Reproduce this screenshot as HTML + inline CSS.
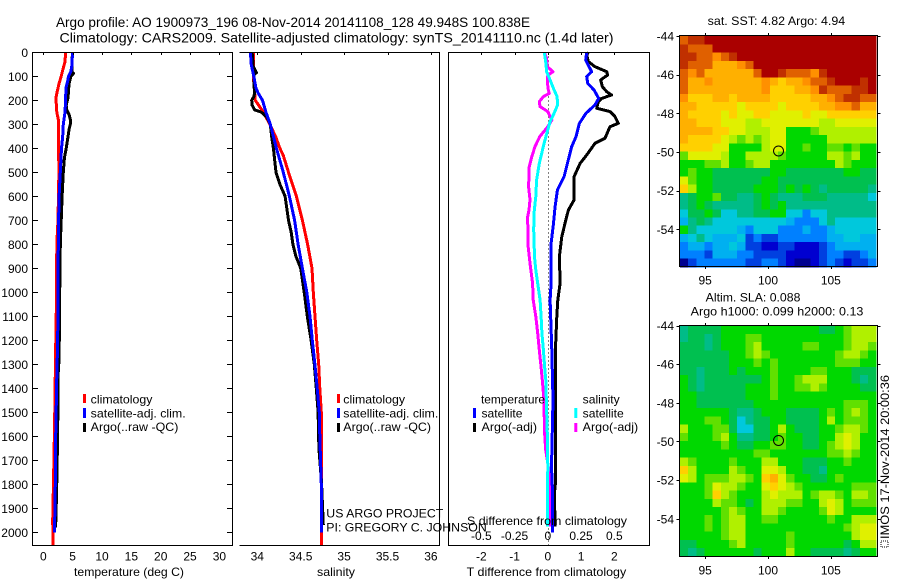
<!DOCTYPE html>
<html>
<head>
<meta charset="utf-8">
<title>Argo profile</title>
<style>
html,body{margin:0;padding:0;background:#fff;width:900px;height:580px;overflow:hidden}
svg{display:block}
text{font-family:"Liberation Sans",sans-serif;font-size:12px;fill:#000}
.ttl{font-size:14px}
</style>
</head>
<body>
<svg id="fig" xmlns="http://www.w3.org/2000/svg" width="900" height="580" viewBox="0 0 900 580">
<text class="ttl" x="56" y="27" textLength="474" lengthAdjust="spacingAndGlyphs">Argo profile: AO 1900973_196 08-Nov-2014 20141108_128 49.948S 100.838E</text>
<text class="ttl" x="59.5" y="42.7" textLength="554" lengthAdjust="spacingAndGlyphs">Climatology: CARS2009. Satellite-adjusted climatology: synTS_20141110.nc (1.4d later)</text>
<g id="g-heat"></g>
<g id="g-lines"></g>
<g id="g-axes" fill="none" stroke="#000" stroke-width="1" shape-rendering="crispEdges"></g>
<g id="g-text"></g>

<text x="74" y="576" textLength="110" lengthAdjust="spacingAndGlyphs">temperature (deg C)</text>
<text x="317" y="576" textLength="38" lengthAdjust="spacingAndGlyphs">salinity</text>
<text x="466.7" y="576" textLength="159.5" lengthAdjust="spacingAndGlyphs">T difference from climatology</text>
<text x="467" y="525" textLength="160" lengthAdjust="spacingAndGlyphs">S difference from climatology</text>

<g>
<rect x="83" y="394" width="3" height="9" fill="#ff0000"/>
<text x="90.7" y="403.7" textLength="61.7" lengthAdjust="spacingAndGlyphs">climatology</text>
<rect x="83" y="408" width="3" height="10" fill="#0000ff"/>
<text x="90.7" y="417.3" textLength="95" lengthAdjust="spacingAndGlyphs">satellite-adj. clim.</text>
<rect x="83" y="423" width="3" height="9" fill="#000"/>
<text x="90.7" y="431" textLength="87.7" lengthAdjust="spacingAndGlyphs">Argo(..raw -QC)</text>
</g>
<g>
<rect x="337" y="394" width="3" height="9" fill="#ff0000"/>
<text x="343.3" y="403.7" textLength="61.7" lengthAdjust="spacingAndGlyphs">climatology</text>
<rect x="337" y="408" width="3" height="10" fill="#0000ff"/>
<text x="343.3" y="417.3" textLength="95" lengthAdjust="spacingAndGlyphs">satellite-adj. clim.</text>
<rect x="337" y="423" width="3" height="9" fill="#000"/>
<text x="343.3" y="431" textLength="87.7" lengthAdjust="spacingAndGlyphs">Argo(..raw -QC)</text>
</g>
<g>
<text x="481" y="403.7" textLength="64" lengthAdjust="spacingAndGlyphs">temperature</text>
<rect x="473" y="408" width="3" height="10" fill="#0000ff"/>
<text x="481.5" y="417.3" textLength="41" lengthAdjust="spacingAndGlyphs">satellite</text>
<rect x="473" y="423" width="3" height="9" fill="#000"/>
<text x="481.5" y="431" textLength="55.5" lengthAdjust="spacingAndGlyphs">Argo(-adj)</text>
<text x="582.7" y="403.7" textLength="37" lengthAdjust="spacingAndGlyphs">salinity</text>
<rect x="574.3" y="408" width="3" height="10" fill="#00ffff"/>
<text x="582.7" y="417.3" textLength="41" lengthAdjust="spacingAndGlyphs">satellite</text>
<rect x="574.3" y="423" width="3" height="9" fill="#ff00ff"/>
<text x="582.7" y="431" textLength="55.5" lengthAdjust="spacingAndGlyphs">Argo(-adj)</text>
</g>
<text x="326.3" y="517.7" textLength="117" lengthAdjust="spacingAndGlyphs">US ARGO PROJECT</text>
<text x="326.3" y="531.7" textLength="160.5" lengthAdjust="spacingAndGlyphs">PI: GREGORY C. JOHNSON</text>

<text x="707.7" y="25" textLength="137.5" lengthAdjust="spacingAndGlyphs">sat. SST: 4.82 Argo: 4.94</text>
<text x="705.7" y="301.3" textLength="94.7" lengthAdjust="spacingAndGlyphs">Altim. SLA: 0.088</text>
<text x="690.7" y="315.3" textLength="172.7" lengthAdjust="spacingAndGlyphs">Argo h1000: 0.099 h2000: 0.13</text>
<rect x="881" y="541" width="7" height="6" fill="none" stroke="#000" stroke-width="1" stroke-dasharray="1 1" shape-rendering="crispEdges"/>
<text transform="translate(889,539) rotate(-90)" x="0" y="0" textLength="164" lengthAdjust="spacingAndGlyphs">IMOS 17-Nov-2014 20:00:36</text>
</svg>
<script>
// ---------- chart data ----------
const depthTicks = [0,100,200,300,400,500,600,700,800,900,1000,1100,1200,1300,1400,1500,1600,1700,1800,1900,2000];
const tempTicks = [0,5,10,15,20,25,30];
const salTicks = [34,34.5,35,35.5,36];
const salTickLabels = ['34','34.5','35','35.5','36'];
const dTTicks = [-2,-1,0,1,2];
const dSTicks = [-0.5,-0.25,0,0.25,0.5];
const dSTickLabels = ['-0.5','-0.25','0','0.25','0.5'];
const lonTicks = [95,100,105];
const latTicks = [-44,-46,-48,-50,-52,-54];
const latTickLabels = ['-44','-46','-48','-50','-52','-54'];
const argoLon = 100.838;
const argoLat = -49.948;

const tClimDepth = [0,40,70,100,130,160,190,250,280,400,500,700,800,1000,1250,1550,1770,1950,2054];
const tClimVal = [3.8,3.7,3.35,3.05,2.7,2.4,2.15,2.3,2.55,2.6,2.65,2.5,2.3,2.27,2.1,1.93,1.76,1.6,1.65];
const tSatDepth = [0,50,80,100,120,150,200,250,300,350,400,450,500,600,700,800,1000,1200,1350,1550,1700,1800,2000];
const tSatVal = [4.95,4.9,4.7,4.3,4.15,3.85,3.8,3.7,3.4,3.3,3.1,3,2.9,2.7,2.6,2.55,2.5,2.45,2.3,2.15,2.05,2.05,1.9];
const tArgoDepth = [0,80,88,100,130,160,190,220,240,260,280,295,320,360,400,440,500,600,700,800,1000,1100,1290,1350,1580,1830,1980];
const tArgoVal = [4.95,4.85,5.15,4.7,4.4,4.3,4.2,3.9,4,4.4,4.6,4.65,4.4,4.15,3.9,3.6,3.4,3.2,3.05,2.9,2.8,2.8,2.65,2.5,2.45,2.27,2.1];

const sClimDepth = [0,100,200,250,290,350,400,430,500,600,700,800,900,1000,1100,1200,1300,1400,1500,1700,2054];
const sClimVal = [33.954,33.954,33.977,34.07,34.13,34.21,34.26,34.3,34.36,34.45,34.52,34.58,34.63,34.645,34.665,34.684,34.707,34.72,34.737,34.74,34.74];
const sSatDepth = [0,50,100,150,170,200,250,300,400,500,600,700,800,900,1000,1100,1200,1300,1400,1500,1600,1800,2000];
const sSatVal = [33.92,33.93,33.96,33.985,34.01,34.06,34.1,34.15,34.22,34.3,34.37,34.43,34.47,34.52,34.57,34.607,34.634,34.664,34.69,34.714,34.72,34.737,34.74];
const sArgoDepth = [0,60,85,92,130,170,185,200,220,240,250,270,300,350,400,450,500,550,600,650,700,750,800,850,900,1000,1100,1200,1300,1400,1500,1650,1790,1970];
const sArgoVal = [33.94,33.954,33.99,33.96,33.96,33.97,33.96,33.935,33.94,33.97,34.05,34.11,34.15,34.165,34.185,34.2,34.215,34.26,34.32,34.34,34.36,34.39,34.41,34.445,34.5,34.54,34.576,34.62,34.657,34.68,34.7,34.71,34.74,34.76];

const dTSatDepth = [0,32,60,81,101,129,157,192,219,254,296,351,393,463,518,574,643,713,796,879,963,1032,1240,1448,1726,1850,2000];
const dTSatVal = [1.17,1.14,1.24,1.32,1.17,1.2,1.39,1.53,1.42,1.15,0.95,0.85,0.72,0.59,0.49,0.29,0.22,0.17,0.1,0.09,0.1,0.07,0.12,0.155,0.11,0.146,0.146];
const dTArgoDepth = [0,11,39,60,81,95,115,143,164,178,192,206,233,247,268,296,310,358,379,428,463,518,615,657,699,768,851,963,1032,1101,1240,1448,1796,1838,1976];
const dTArgoVal = [1.22,1.17,1.22,1.42,1.77,1.8,1.59,1.64,1.77,1.92,1.62,1.52,1.47,1.87,2.02,2.12,1.87,1.72,1.42,1.17,0.97,0.79,0.79,0.62,0.54,0.42,0.35,0.37,0.3,0.27,0.23,0.23,0.23,0.2,0.22];
const dSSatDepth = [0,46,81,115,150,185,219,254,289,323,379,463,532,601,671,741,852,907,963,1032,1101,1170,1240,1309,1379,1448,1587,1726,1976];
const dSSatVal = [-0.026,-0.014,-0.009,0.017,0.042,0.07,0.074,0.047,0.017,0,-0.028,-0.064,-0.084,-0.09,-0.104,-0.106,-0.1,-0.09,-0.076,-0.058,-0.05,-0.044,-0.033,-0.024,-0.013,-0.011,-0.004,0,-0.004];
const dSArgoDepth = [0,25,60,81,95,122,157,171,185,206,226,247,282,310,351,393,435,477,560,615,657,692,741,796,879,963,1032,1101,1170,1240,1309,1379,1448,1587,1657,1754,1865,1976];
const dSArgoVal = [-0.026,-0.009,-0.004,0.04,0,-0.004,0.004,0.011,-0.034,-0.064,-0.059,0,0.03,0,-0.06,-0.096,-0.12,-0.14,-0.144,-0.134,-0.141,-0.154,-0.147,-0.15,-0.134,-0.114,-0.11,-0.09,-0.076,-0.064,-0.051,-0.039,-0.029,-0.024,-0.016,0.011,0.011,0.017];

const heatLevels = ['#000090','#0000d0','#0040e0','#0080ff','#00b0f0','#00c8dc','#00bc88','#00c050','#00d800','#60e000','#b0f000','#e0f000','#ffd000','#ffb000','#ff9000','#e06000','#c03000','#aa0000'];
const sstCells = [
[15,16,16,17,17,17,17,17,17,17,17,17,17,17,17,17,17,17,17,17,17,17,17,17],
[16,15,15,15,17,17,17,17,17,17,17,17,17,17,17,17,17,17,17,17,17,17,17,17],
[16,16,15,15,14,15,16,17,17,17,17,17,17,17,17,17,17,17,17,17,17,17,17,17],
[16,15,15,15,13,13,13,14,15,17,17,17,17,17,17,17,17,17,17,17,17,17,17,17],
[15,14,15,13,13,13,13,13,13,15,17,17,16,15,15,15,14,16,17,17,17,17,17,17],
[15,13,13,14,13,13,13,13,13,13,14,13,12,13,13,14,15,15,16,17,17,17,16,17],
[15,13,13,13,13,13,13,13,13,13,14,12,12,12,13,13,14,16,15,15,15,16,16,17],
[14,12,12,12,13,13,12,13,13,13,13,12,12,12,12,12,13,13,14,15,16,16,15,15],
[13,13,12,12,12,12,12,11,12,12,12,12,11,12,12,12,12,13,13,14,14,15,13,13],
[13,12,12,12,12,11,12,11,11,12,12,11,11,11,11,12,11,11,12,12,12,12,12,12],
[13,13,12,12,12,11,11,11,10,10,11,11,11,11,11,11,11,10,10,11,11,11,11,11],
[13,13,13,13,12,12,11,11,10,10,10,11,11,8,8,8,9,10,10,10,10,10,10,10],
[13,12,12,12,12,11,10,9,10,9,10,11,11,8,8,8,8,8,10,10,10,10,10,10],
[12,12,12,12,11,11,8,8,8,8,10,11,11,8,8,9,8,8,9,9,8,9,8,8],
[9,11,11,11,11,10,8,8,10,10,10,10,9,8,8,8,8,8,10,10,9,10,8,8],
[8,8,8,9,9,10,8,8,9,10,10,8,8,8,8,8,8,8,8,10,9,8,8,8],
[8,9,8,8,7,7,7,7,7,7,7,8,8,7,7,7,7,7,7,7,8,8,7,7],
[11,9,8,8,7,7,7,7,7,7,8,8,7,7,7,7,7,7,7,7,7,7,7,7],
[12,10,8,8,7,7,7,7,7,8,8,8,7,8,7,8,7,6,7,7,7,7,7,6],
[6,7,8,8,9,7,7,6,6,7,8,7,6,6,6,7,7,7,6,6,6,6,6,5],
[6,7,8,7,6,6,6,6,6,7,8,7,8,6,6,6,6,6,6,6,6,6,6,6],
[5,7,7,8,7,5,5,6,6,7,7,8,8,5,5,3,5,5,6,6,6,6,6,6],
[4,6,7,6,5,5,5,5,5,5,5,5,5,4,3,3,3,5,6,5,5,5,5,5],
[8,6,5,5,5,5,5,4,3,5,5,5,3,3,3,4,3,3,4,5,5,5,5,5],
[4,5,6,5,4,4,4,5,2,3,2,2,3,3,3,3,3,3,4,4,5,5,4,4],
[3,4,4,3,4,4,5,4,2,2,1,1,2,2,1,1,1,2,3,4,4,4,4,4],
[3,3,3,2,4,4,4,3,3,2,2,2,2,1,1,1,1,2,3,3,2,2,3,4],
[0,2,3,3,3,3,3,3,2,2,3,3,2,1,0,0,1,2,3,2,1,2,2,3]
];
const slaCells = [
[6,7,7,7,7,8,8,8,8,8,8,8,8,8,8,8,8,7,7,8,9,10,10,10],
[6,7,7,6,7,8,8,8,9,9,8,8,8,8,8,8,8,8,8,8,9,10,10,10],
[7,7,7,6,7,8,8,8,9,10,8,8,8,8,8,9,9,8,8,8,9,10,10,9],
[7,7,7,7,7,7,8,8,9,10,9,8,8,8,8,8,8,8,8,9,10,10,9,8],
[7,7,7,7,7,7,8,8,8,9,8,9,8,8,8,8,8,8,8,9,9,9,8,8],
[7,7,6,7,7,7,8,7,8,8,8,9,8,8,8,8,9,9,8,8,8,7,7,7],
[8,7,6,7,7,7,7,7,7,7,8,9,8,8,9,10,10,10,8,8,8,7,6,7],
[8,7,6,7,7,7,7,7,8,8,8,9,8,8,9,9,10,9,8,8,8,8,7,7],
[8,8,7,7,7,7,7,7,8,8,8,9,8,8,8,8,8,8,8,8,8,8,8,8],
[8,8,7,7,7,7,7,7,7,8,8,8,8,8,8,8,8,8,8,8,9,9,9,8],
[8,8,8,8,8,8,7,6,6,7,8,8,8,7,7,7,7,8,9,8,9,10,9,8],
[8,8,8,9,9,8,7,5,6,7,7,8,8,7,7,7,7,8,10,8,9,9,9,8],
[10,8,8,8,9,9,7,5,5,7,7,8,10,8,7,7,7,8,8,9,10,10,9,8],
[9,8,8,8,9,10,8,6,6,7,7,8,9,8,8,7,7,8,8,10,11,10,8,8],
[8,8,8,8,8,9,8,7,7,8,8,9,9,8,8,7,7,8,9,10,11,10,8,8],
[8,8,8,8,8,8,8,8,8,9,9,8,8,8,8,8,8,8,9,9,10,9,8,8],
[10,9,8,8,8,8,9,8,8,8,10,10,8,8,8,7,7,7,8,8,9,8,8,8],
[12,10,8,8,8,8,10,9,8,8,11,11,10,8,8,7,7,6,8,8,8,8,8,8],
[11,10,8,9,9,9,10,10,9,8,12,13,11,9,8,8,7,7,8,9,8,8,8,8],
[8,8,8,9,11,10,10,9,8,8,11,12,11,10,9,8,8,8,8,8,8,9,9,9],
[8,8,8,9,12,10,9,8,8,8,10,11,10,10,10,8,9,10,10,9,8,10,10,9],
[8,8,8,8,10,9,9,8,7,8,10,10,10,9,9,8,8,10,11,10,8,9,9,9],
[8,8,8,8,8,9,10,9,8,8,10,10,9,8,8,8,8,9,11,10,8,8,8,8],
[8,8,8,9,8,9,10,10,8,8,9,9,8,8,8,8,8,8,9,8,8,10,10,10],
[8,8,8,9,8,9,10,10,8,8,8,8,8,8,8,8,8,8,8,8,9,10,11,11],
[8,8,8,8,8,9,10,10,8,8,8,8,8,9,8,8,8,8,8,8,8,10,11,11],
[7,7,8,8,8,8,9,10,8,8,8,8,8,9,8,8,8,8,8,8,7,8,10,10],
[7,6,7,8,8,8,8,8,8,7,8,8,8,10,8,8,7,7,7,7,6,7,8,8]
];

// ---------- axis functions ----------
const PTOP = 52.3, PBOT = 545.3;
const yDepth = d => PTOP + d * 0.24;
const xTemp = v => 43.3 + v * 5.87;
const xSal = v => 257.3 + (v - 34) * 86.8;
const xDT = v => 547.8 + v * 33.25;
const xDS = v => 547.8 + v * 133;
const xLon = lon => 680 + (lon - 93) * 12.57;
const yLat1 = lat => 36 + (-44 - lat) * 19.33;
const yLat2 = lat => 325.5 + (-44 - lat) * 19.33;

const NS = 'http://www.w3.org/2000/svg';
const gHeat = document.getElementById('g-heat');
const gLines = document.getElementById('g-lines');
const gAxes = document.getElementById('g-axes');
const gText = document.getElementById('g-text');

function mk(tag, parent, attrs) {
  const el = document.createElementNS(NS, tag);
  for (const k in attrs) el.setAttribute(k, attrs[k]);
  parent.appendChild(el);
  return el;
}
function profile(depths, vals, xf, color) {
  const pts = depths.map((d, i) => xf(vals[i]).toFixed(1) + ',' + yDepth(d).toFixed(1)).join(' ');
  return mk('polyline', gLines, {points: pts, fill: 'none', stroke: color, 'stroke-width': 3, 'stroke-linejoin': 'round', 'shape-rendering': 'crispEdges'});
}
function seg(x1, y1, x2, y2) {
  return mk('line', gAxes, {x1: x1, y1: y1, x2: x2, y2: y2});
}
function label(str, x, y, anchor) {
  const t = mk('text', gText, {x: x, y: y, 'text-anchor': anchor});
  t.textContent = str;
  return t;
}
function heatmap(cells, yf) {
  const nRows = cells.length, nCols = cells[0].length;
  const dLon = 15.6 / nCols, dLat = 11.95 / nRows;
  const group = mk('g', gHeat, {'shape-rendering': 'crispEdges'});
  cells.forEach((row, r) => row.forEach((v, c) => {
    const x0 = xLon(93 + c * dLon), x1 = xLon(93 + (c + 1) * dLon);
    const y0 = yf(-44 - r * dLat), y1 = yf(-44 - (r + 1) * dLat);
    const idx = Math.max(0, Math.min(heatLevels.length - 1, Math.round(v)));
    mk('rect', group, {x: x0.toFixed(2), y: y0.toFixed(2), width: (x1 - x0 + 0.3).toFixed(2), height: (y1 - y0 + 0.3).toFixed(2), fill: heatLevels[idx]});
  }));
  return group;
}

// ---------- maps ----------
const sstMap = heatmap(sstCells, yLat1);


const slaMap = heatmap(slaCells, yLat2);



// ---------- profile lines ----------
const l1 = profile(tClimDepth, tClimVal, xTemp, '#ff0000');


const l2 = profile(tArgoDepth, tArgoVal, xTemp, '#000000');


const l3 = profile(tSatDepth, tSatVal, xTemp, '#0000ff');


const l4 = profile(sClimDepth, sClimVal, xSal, '#ff0000');


const l5 = profile(sArgoDepth, sArgoVal, xSal, '#000000');


const l6 = profile(sSatDepth, sSatVal, xSal, '#0000ff');


const zero = mk('line', gLines, {x1: Math.round(xDT(0)) + 0.5, y1: yDepth(0), x2: Math.round(xDT(0)) + 0.5, y2: PBOT, stroke: '#000', 'stroke-width': 1, 'stroke-dasharray': '1 3', 'shape-rendering': 'crispEdges'});


const l7 = profile(dSArgoDepth, dSArgoVal, xDS, '#ff00ff');


const l8 = profile(dSSatDepth, dSSatVal, xDS, '#00ffff');


const l9 = profile(dTArgoDepth, dTArgoVal, xDT, '#000000');


const l10 = profile(dTSatDepth, dTSatVal, xDT, '#0000ff');



// ---------- panel frames ----------
const frame1 = mk('path', gAxes, {d: 'M32.5 52.5H232.5V545.5H32.5Z'});


const frame2 = mk('path', gAxes, {d: 'M239.5 52.5H439.5V545.5H239.5'});


const frame3 = mk('path', gAxes, {d: 'M448.5 52.5H649.5V545.5H448.5Z'});


const frame4 = mk('path', gAxes, {d: 'M679.5 35.5H877.5V266.5H679.5Z'});


const frame5 = mk('path', gAxes, {d: 'M679.5 325.5H877.5V556.5H679.5Z'});



// ---------- ticks and labels ----------
depthTicks.forEach(d => {
  const y = Math.round(yDepth(d)) + 0.5;
  const a = seg(32.5, y, 38, y);
  
  
  const b = seg(227, y, 232.5, y);
  
  
  const t = label(String(d), 28, yDepth(d) + 4.5, 'end');
  
  
});
tempTicks.forEach(v => {
  const x = Math.round(xTemp(v)) + 0.5;
  const a = seg(x, 52.5, x, 55);
  
  
  const t = label(String(v), xTemp(v), 560.7, 'middle');
  
  
});
salTicks.forEach((v, i) => {
  const x = Math.round(xSal(v)) + 0.5;
  const a = seg(x, 52.5, x, 55);
  
  
  const t = label(salTickLabels[i], xSal(v), 560.7, 'middle');
  
  
});
dTTicks.forEach(v => {
  const x = Math.round(xDT(v)) + 0.5;
  const a = seg(x, 52.5, x, 55);
  
  
  const t = label(String(v), xDT(v), 560.7, 'middle');
  
  
});
dSTicks.forEach((v, i) => {
  const t = label(dSTickLabels[i], xDS(v), 540, 'middle');
  
  
});
lonTicks.forEach(v => {
  const x = Math.round(xLon(v)) + 0.5;
  const a = seg(x, 33, x, 35.5);
  
  
  const b = seg(x, 266.5, x, 269);
  
  
  const c = seg(x, 323, x, 325.5);
  
  
  const d = seg(x, 556.5, x, 559);
  
  
  const t1 = label(String(v), xLon(v), 284.3, 'middle');
  
  
  const t2 = label(String(v), xLon(v), 574.3, 'middle');
  
  
});
latTicks.forEach((v, i) => {
  const y1 = Math.round(yLat1(v)) + 0.5;
  const y2 = Math.round(yLat2(v)) + 0.5;
  const a = seg(676.5, y1, 679.5, y1);
  
  
  const b = seg(877.5, y1, 880.5, y1);
  
  
  const c = seg(676.5, y2, 679.5, y2);
  
  
  const d = seg(877.5, y2, 880.5, y2);
  
  
  const t1 = label(latTickLabels[i], 674, yLat1(v) + 4.5, 'end');
  
  
  const t2 = label(latTickLabels[i], 674, yLat2(v) + 4.5, 'end');
  
  
});

// ---------- Argo location markers ----------
const m1 = mk('circle', gLines, {cx: xLon(argoLon), cy: yLat1(argoLat), r: 5, fill: 'none', stroke: '#000', 'stroke-width': 1});


const m2 = mk('circle', gLines, {cx: xLon(argoLon), cy: yLat2(argoLat), r: 5, fill: 'none', stroke: '#000', 'stroke-width': 1});


</script>
</body>
</html>
